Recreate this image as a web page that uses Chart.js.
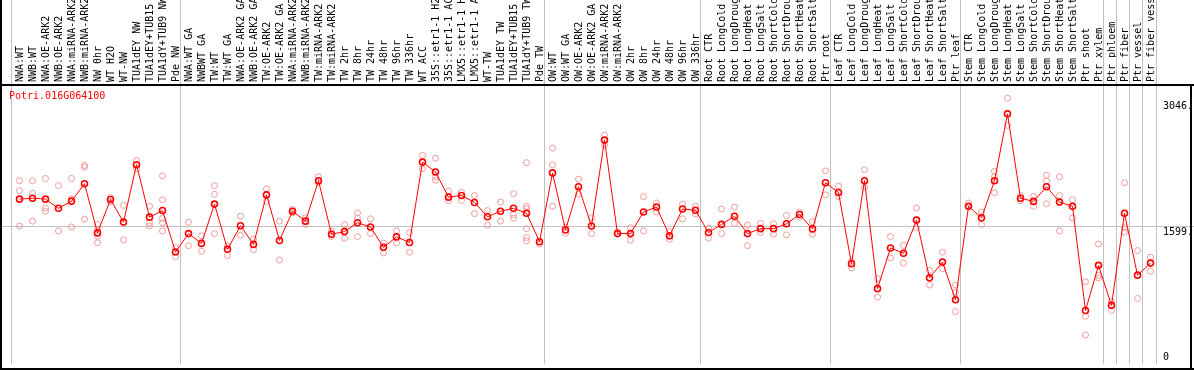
<!DOCTYPE html>
<html>
<head>
<meta charset="utf-8">
<script src="https://cdn.jsdelivr.net/npm/chart.js@4.4.1/dist/chart.umd.min.js"></script>
<style>
  html, body { margin: 0; padding: 0; background: #fff; }
</style>
</head>
<body>
<canvas id="chart" width="1194" height="370"></canvas>
<script>
const geneName = 'Potri.016G064100';

const labels = [
  'NWA:WT', 'NWB:WT', 'NWA:OE-ARK2', 'NWB:OE-ARK2', 'NWA:miRNA-ARK2', 'NWB:miRNA-ARK2',
  'NW 0hr', 'WT H2O', 'WT-NW', 'TUA1dEY NW', 'TUA1dEY+TUB15 NW', 'TUA1dY+TUB9 NW', 'Pde NW',
  'NWA:WT GA', 'NWBWT GA', 'TW:WT', 'TW:WT GA', 'NWA:OE-ARK2 GA', 'NWB:OE-ARK2 GA',
  'TW:OE-ARK2', 'TW:OE-ARK2 GA', 'NWA:miRNA-ARK2 GA', 'NWB:miRNA-ARK2 GA', 'TW:miRNA-ARK2',
  'TW:miRNA-ARK2 GA', 'TW 2hr', 'TW 8hr', 'TW 24hr', 'TW 48hr', 'TW 96hr', 'TW 336hr',
  'WT ACC', '35S::etr1-1 H2O', '35S::etr1-1 ACC', 'LMX5::etr1-1 H2O', 'LMX5::etr1-1 ACC',
  'WT-TW', 'TUA1dEY TW', 'TUA1dEY+TUB15 TW', 'TUA1dY+TUB9 TW', 'Pde TW',
  'OW:WT', 'OW:WT GA', 'OW:OE-ARK2', 'OW:OE-ARK2 GA', 'OW:miRNA-ARK2', 'OW:miRNA-ARK2 GA',
  'OW 2hr', 'OW 8hr', 'OW 24hr', 'OW 48hr', 'OW 96hr', 'OW 336hr',
  'Root CTR', 'Root LongCold', 'Root LongDrought', 'Root LongHeat', 'Root LongSalt',
  'Root ShortCold', 'Root ShortDrought', 'Root ShortHeat', 'Root ShortSalt', 'Ptr root',
  'Leaf CTR', 'Leaf LongCold', 'Leaf LongDrought', 'Leaf LongHeat', 'Leaf LongSalt',
  'Leaf ShortCold', 'Leaf ShortDrought', 'Leaf ShortHeat', 'Leaf ShortSalt', 'Ptr leaf',
  'Stem CTR', 'Stem LongCold', 'Stem LongDrought', 'Stem LongHeat', 'Stem LongSalt',
  'Stem ShortCold', 'Stem ShortDrought', 'Stem ShortHeat', 'Stem ShortSalt', 'Ptr shoot',
  'Ptr xylem', 'Ptr phloem', 'Ptr fiber', 'Ptr vessel', 'Ptr fiber vessel'
];

// index of first sample in each group (gray separators)
const groupStarts = [0, 13, 41, 53, 63, 73, 84, 85, 86, 87];

const means = [
  1909, 1920, 1909, 1803, 1886, 2087, 1519, 1905, 1644, 2307, 1701, 1777, 1299,
  1511, 1398, 1852, 1330, 1602, 1386, 1958, 1432, 1769, 1655, 2122, 1504, 1534, 1636,
  1588, 1352, 1473, 1409, 2337, 2223, 1932, 1951, 1871, 1705, 1769, 1803, 1746, 1417,
  2212, 1553, 2053, 1599, 2591, 1511, 1511, 1761, 1818, 1485, 1795, 1780,
  1523, 1617, 1712, 1511, 1568, 1568, 1625, 1731, 1565, 2099,
  1985, 1163, 2122, 875, 1345, 1284, 1667, 1000, 1182, 746,
  1826, 1693, 2122, 2894, 1920, 1883, 2053, 1875, 1826, 622, 1144,
  682, 1746, 1031, 1170
];

const replicates = [
  [2122, 2008, 1599], [2122, 1977, 1655], [2148, 1807, 1769], [2065, 1542],
  [2148, 1913, 1588], [2299, 2280, 1678], [1617, 1560, 1477, 1405], [1928, 1880],
  [1837, 1439], [2356, 2261], [1826, 1636, 1600], [2178, 1902, 1686, 1636, 1542],
  [1352, 1246],
  [1644, 1371], [1485, 1307], [2065, 1966, 1511], [1370, 1258], [1712, 1492],
  [1447, 1326], [2027, 1883], [1655, 1208], [1790, 1750], [1693, 1617], [2167, 2100],
  [1542, 1477], [1614, 1458], [1750, 1690, 1477], [1682, 1511], [1401, 1288],
  [1542, 1405], [1523, 1295], [2413, 2261], [2383, 2167, 2129], [2003, 1890],
  [1989, 1894], [1951, 1742], [1777, 1610], [1875, 1655], [1973, 1731, 1690],
  [2330, 1826, 1800, 1568, 1466, 1428], [1390],
  [2497, 2307, 1826], [1588, 1515], [2140, 1966], [1693, 1511], [2648, 2534], [1530],
  [1580, 1435], [1939, 1542], [1864, 1761], [1534, 1447], [1852, 1682], [1826, 1739],
  [1572, 1458], [1795, 1511], [1818, 1629], [1610, 1371], [1629, 1523], [1625, 1504],
  [1720, 1496], [1758, 1700], [1648, 1504], [2235, 1958],
  [2060, 1939], [1190, 1114], [2250, 2045], [992, 776], [1477, 1231], [1375, 1170],
  [1807, 1580], [1087, 917], [1295, 1106], [917, 830, 610],
  [1864], [1761, 1617], [2231, 2170, 1985], [3076, 2761], [1950, 1890], [1939, 1826],
  [2185, 2117, 1856], [2167, 1950, 1542], [1902, 1693], [955, 557, 341], [1390, 1031, 1000],
  [727, 622], [2099, 1580, 1530], [1315, 761], [1239, 1076]
];

const yTicks = [0, 1599, 3046];

// replicate circles keyed by sample label so the category axis places them
const repPoints = [];
replicates.forEach((vals, i) => {
  vals.forEach(v => repPoints.push({ x: labels[i], y: v }));
});

const FONT = '10px "DejaVu Sans Mono", monospace';

const framePlugin = {
  id: 'frame',
  beforeDatasetsDraw(chart) {
    const { ctx, chartArea, scales } = chart;
    const x = scales.x, y = scales.y;
    ctx.save();
    ctx.strokeStyle = '#c0c0c0';
    ctx.lineWidth = 1;
    // group separators run through the label area too
    groupStarts.forEach(i => {
      const px = Math.round(x.getPixelForValue(i) - 9) + 0.5;
      ctx.beginPath();
      ctx.moveTo(px, 0);
      ctx.lineTo(px, chartArea.bottom);
      ctx.stroke();
    });
    const endX = Math.round(x.getPixelForValue(labels.length - 1) + 5) + 0.5;
    ctx.beginPath();
    ctx.moveTo(endX, 0);
    ctx.lineTo(endX, chartArea.bottom);
    ctx.stroke();
    // mid gridline
    const gy = Math.round(y.getPixelForValue(yTicks[1])) + 0.5;
    ctx.beginPath();
    ctx.moveTo(0, gy);
    ctx.lineTo(chart.width, gy);
    ctx.stroke();

    // black frame
    ctx.strokeStyle = '#000';
    ctx.lineWidth = 2;
    ctx.beginPath();
    ctx.moveTo(0, 85); ctx.lineTo(chart.width, 85);
    ctx.moveTo(1, 0); ctx.lineTo(1, chart.height);
    ctx.moveTo(chart.width - 3, 85); ctx.lineTo(chart.width - 3, chart.height);
    ctx.moveTo(0, chart.height - 1); ctx.lineTo(chart.width, chart.height - 1);
    ctx.stroke();
    ctx.restore();
  },
  afterDraw(chart) {
    const { ctx, chartArea, scales } = chart;
    ctx.save();
    ctx.font = FONT;
    ctx.textBaseline = 'top';
    ctx.fillStyle = '#ff0000';
    ctx.fillText(geneName, 9, 91);
    ctx.fillStyle = '#000';
    yTicks.forEach(v => {
      let py = scales.y.getPixelForValue(v) + 1;
      if (py > chartArea.bottom - 12) py = chartArea.bottom - 12;
      ctx.fillText(v === 0 ? '0' : v + '.', 1163, py);
    });
    ctx.restore();
  }
};

new Chart(document.getElementById('chart'), {
  type: 'line',
  data: {
    labels: labels,
    datasets: [
      {
        label: 'mean',
        data: means,
        borderColor: '#ff0000',
        borderWidth: 1,
        pointRadius: 3,
        pointBorderWidth: 1.6,
        pointBorderColor: '#ff0000',
        pointBackgroundColor: 'rgba(0,0,0,0)',
        tension: 0
      },
      {
        label: 'replicates',
        data: repPoints,
        showLine: false,
        pointRadius: 3,
        pointBorderWidth: 1,
        pointBorderColor: '#f09a9a',
        pointBackgroundColor: 'rgba(0,0,0,0)'
      }
    ]
  },
  options: {
    responsive: false,
    animation: false,
    devicePixelRatio: 1,
    layout: { padding: { left: 13, right: 37, top: 0, bottom: 1 } },
    plugins: { legend: { display: false }, tooltip: { enabled: false } },
    scales: {
      x: {
        type: 'category',
        position: 'top',
        offset: true,
        grid: { display: false, drawTicks: false },
        border: { display: false },
        ticks: {
          autoSkip: false,
          minRotation: 90,
          maxRotation: 90,
          padding: 4,
          labelOffset: 13,
          color: '#000',
          font: { family: '"DejaVu Sans Mono", monospace', size: 10 }
        },
        afterFit(scale) { scale.height = 86; }
      },
      y: { display: false, min: 0, max: 3216 }
    }
  },
  plugins: [framePlugin]
});
</script>
</body>
</html>
